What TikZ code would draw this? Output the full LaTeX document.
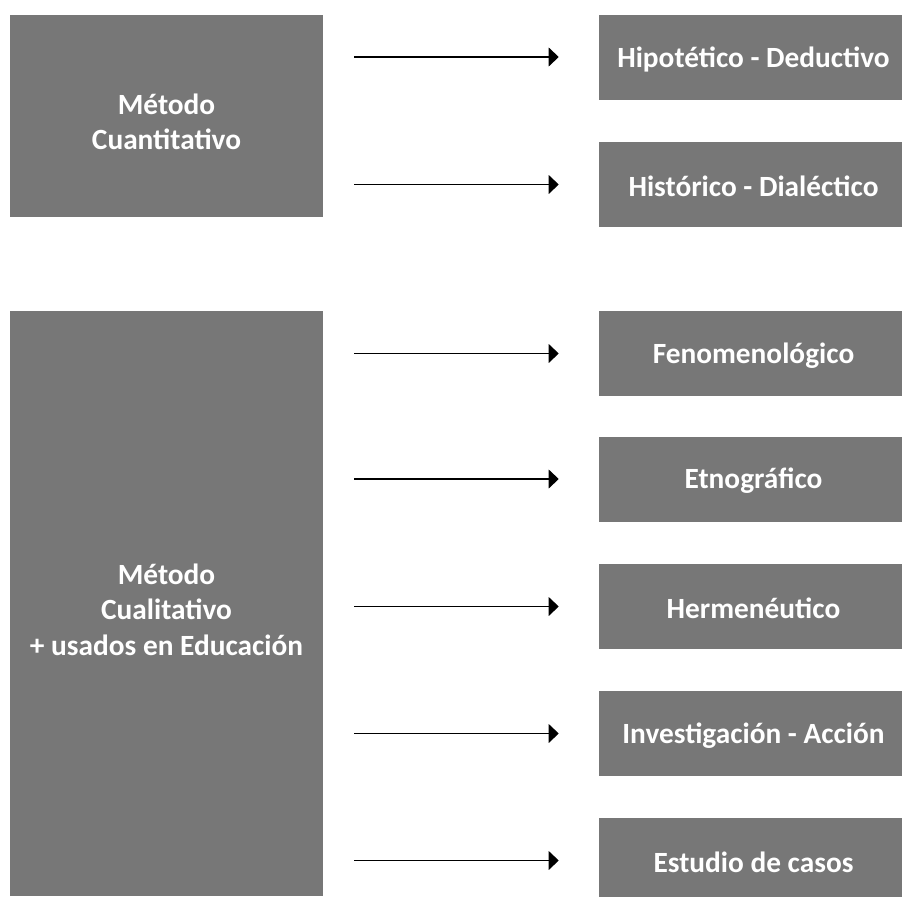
\documentclass[tikz,border=0pt]{standalone}
\usepackage{fontspec}
\setmainfont{Carlito}
\usetikzlibrary{arrows.meta}
\definecolor{boxgray}{HTML}{777777}
\tikzset{
  box/.style={fill=boxgray, draw=none, inner sep=0pt},
  txt/.style={text=white, font=\bfseries\fontsize{22}{26.6}\selectfont, align=center, inner sep=0pt},
  arr/.style={-{Triangle[length=7.5pt,width=14pt]}, line width=1pt, black},
  lbox/.style={box, minimum width=313*0.75pt},
  rbox/.style={box, minimum width=303*0.75pt, minimum height=85*0.75pt},
  ltext/.style={label={[txt, yshift=-6*0.75pt]center:#1}},
  rtext/.style={label={[txt, xshift=3*0.75pt, yshift=-2*0.75pt]center:#1}}
}
\begin{document}
\begin{tikzpicture}[x=0.75pt,y=-0.75pt]
\useasboundingbox (0,0) rectangle (902,896);
% left boxes
\node[lbox, minimum height=202*0.75pt, ltext={Método\\Cuantitativo}] (L1) at (166.5,116) {};
\node[lbox, minimum height=585*0.75pt, ltext={Método\\Cualitativo\\+ usados en Educación}] (L2) at (166.5,603.5) {};
% right boxes
\node[rbox, rtext={Hipotético - Deductivo}] (R1) at (750.5,57) {};
\node[rbox, rtext={Histórico - Dialéctico}] (R2) at (750.5,184.5) {};
\node[rbox, rtext={Fenomenológico}] (R3) at (750.5,353.5) {};
\node[rbox, rtext={Etnográfico}] (R4) at (750.5,479) {};
\node[rbox, rtext={Hermenéutico}] (R5) at (750.5,606.5) {};
\node[rbox, rtext={Investigación - Acción}] (R6) at (750.5,733.5) {};
\node[rbox, rtext={Estudio de casos}] (R7) at (750.5,860.5) {};
% arrows
\foreach \l/\r in {L1/R1,L1/R2,L2/R3,L2/R4,L2/R5,L2/R6,L2/R7}{
  \draw[arr, shorten <=31*0.75pt, shorten >=40*0.75pt] (\l.east |- \r.west) -- (\r.west);
}
\end{tikzpicture}
\end{document}
